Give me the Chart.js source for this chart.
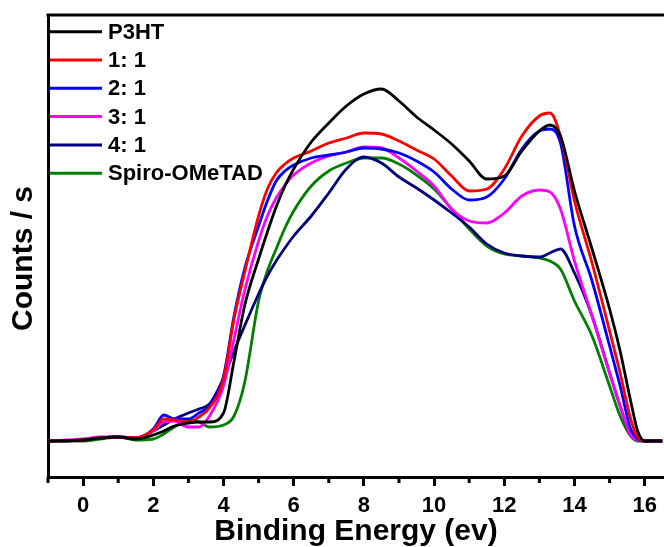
<!DOCTYPE html>
<html>
<head>
  <title>Binding Energy Spectra</title>
  <script src="https://cdn.jsdelivr.net/npm/chart.js"></script>
  <style>
    body { margin: 0; padding: 0; background: white; }
    .chart-container { position: relative; width: 664px; height: 547px; }
  </style>
</head>
<body>
  <div class="chart-container">
    <canvas id="spectraChart" width="664" height="547"></canvas>
  </div>

  <script>
    // Binding energy (eV) sample positions
    const energy = [-1, 0, 0.5, 1, 1.5, 2, 2.3, 2.6, 3, 3.3, 3.6, 4, 4.3, 4.6, 5, 5.25, 5.5, 5.75, 6, 6.5, 7, 7.5,
      8, 8.5, 9, 9.5, 10, 10.5, 11, 11.5, 12, 12.5, 13, 13.3, 13.6, 14, 14.5, 15, 15.3, 15.6, 15.8, 16, 16.5];

    // Counts (arbitrary units)
    const p3ht = [0, 1, 3, 4, 2, 6, 10, 15, 18, 19, 19, 28, 80, 135, 182, 209, 234, 255, 272, 299, 318, 335,
      347, 352, 340, 324, 311, 297, 280, 262, 265, 290, 310, 316, 305, 250, 192, 132, 90, 40, 10, 0, 0];
    const ratio11 = [0, 1, 3, 4, 3, 11, 22, 21, 19, 24, 33, 62, 122, 168, 225, 252, 268, 277, 283, 290, 298, 303,
      308, 307, 300, 291, 282, 265, 250, 252, 272, 305, 325, 328, 305, 240, 178, 110, 68, 22, 4, 0, 0];
    const ratio21 = [0, 1, 3, 4, 3, 12, 26, 22, 22, 28, 35, 65, 125, 172, 215, 240, 260, 270, 276, 283, 286, 289,
      293, 292, 288, 280, 269, 252, 241, 244, 262, 292, 310, 312, 298, 215, 160, 95, 55, 12, 2, 0, 0];
    const ratio31 = [0, 2, 4, 4, 3, 10, 19, 20, 14, 14, 25, 55, 102, 150, 200, 225, 243, 256, 266, 278, 285, 289,
      294, 293, 283, 270, 255, 232, 220, 218, 228, 245, 251, 249, 232, 180, 125, 68, 35, 6, 1, 0, 0];
    const ratio41 = [0, 1, 3, 4, 3, 10, 16, 22, 28, 32, 37, 63, 90, 115, 147, 165, 180, 193, 205, 225, 248, 272,
      284, 278, 264, 253, 241, 228, 214, 197, 188, 185, 184, 188, 192, 168, 125, 68, 35, 6, 1, 0, 0];
    const spiro = [0, 0, 2, 4, 1, 2, 7, 14, 21, 19, 14, 16, 25, 58, 140, 170, 192, 213, 230, 255, 270, 278,
      283, 283, 277, 266, 252, 232, 212, 195, 187, 185, 183, 180, 172, 140, 105, 55, 25, 5, 0, 0, 0];

    const seriesNames = ["P3HT", "1: 1", "2: 1", "3: 1", "4: 1", "Spiro-OMeTAD"];
    const seriesColors = ["#000000", "#ff0000", "#0000ff", "#ff00ff", "#000080", "#008000"];
    const seriesValues = [p3ht, ratio11, ratio21, ratio31, ratio41, spiro];

    const fontFamily = "'Liberation Sans', Arial, sans-serif";

    const datasets = seriesNames.map((name, i) => ({
      label: name,
      data: energy.map((x, j) => ({ x: x, y: seriesValues[i][j] })),
      borderColor: seriesColors[i],
      backgroundColor: seriesColors[i],
      borderWidth: 2.8,
      pointRadius: 0,
      cubicInterpolationMode: 'monotone',
      fill: false
    }));

    // Top frame line, minor ticks and the legend inside the plot
    const framePlugin = {
      id: 'frame',
      afterDraw(chart) {
        const ctx = chart.ctx;
        const area = chart.chartArea;
        const xScale = chart.scales.x;
        ctx.save();
        ctx.strokeStyle = '#000';
        ctx.lineWidth = 3;
        ctx.beginPath();
        ctx.moveTo(area.left - 1.5, area.top);
        ctx.lineTo(area.right, area.top);
        ctx.stroke();

        // short minor ticks at odd energies
        for (let v = -1; v <= 16; v += 2) {
          const px = xScale.getPixelForValue(v);
          ctx.beginPath();
          ctx.moveTo(px, area.bottom);
          ctx.lineTo(px, area.bottom + 6);
          ctx.stroke();
        }

        ctx.font = 'bold 22px ' + fontFamily;
        ctx.textBaseline = 'middle';
        seriesNames.forEach((name, i) => {
          const y = 31.7 + i * 28.3;
          ctx.strokeStyle = seriesColors[i];
          ctx.lineWidth = 3;
          ctx.beginPath();
          ctx.moveTo(area.left + 2, y);
          ctx.lineTo(area.left + 54, y);
          ctx.stroke();
          ctx.fillStyle = '#000';
          ctx.fillText(name, area.left + 60, y + 1);
        });
        ctx.restore();
      }
    };

    const ctx = document.getElementById('spectraChart').getContext('2d');
    new Chart(ctx, {
      type: 'line',
      data: { datasets: datasets },
      options: {
        responsive: false,
        animation: false,
        layout: { padding: { top: 15, right: 0, left: 0, bottom: 0 } },
        scales: {
          x: {
            type: 'linear',
            min: -1,
            max: 16.55,
            afterBuildTicks: scale => {
              const list = [];
              for (let v = 0; v <= 16; v += 2) list.push({ value: v });
              scale.ticks = list;
            },
            border: { display: true, color: '#000', width: 3 },
            grid: {
              drawOnChartArea: false,
              color: '#000',
              tickLength: 9,
              tickWidth: 3
            },
            ticks: {
              autoSkip: false,
              maxRotation: 0,
              padding: 7,
              color: '#000',
              font: { family: fontFamily, size: 22, weight: 'bold' }
            },
            title: {
              display: true,
              text: 'Binding Energy (ev)',
              color: '#000',
              padding: { top: 0, bottom: -3 },
              font: { family: fontFamily, size: 30, weight: 'bold' }
            },
            afterFit: scale => { scale.height = 70; }
          },
          y: {
            min: -36,
            max: 426,
            border: { display: true, color: '#000', width: 3 },
            grid: { display: false },
            ticks: { display: false },
            title: {
              display: true,
              text: 'Counts / s   ',
              color: '#000',
              padding: { top: 6, bottom: 0 },
              font: { family: fontFamily, size: 30, weight: 'bold' }
            },
            afterFit: scale => { scale.width = 48; }
          }
        },
        plugins: {
          legend: { display: false },
          tooltip: { enabled: false }
        }
      },
      plugins: [framePlugin]
    });
  </script>
</body>
</html>
